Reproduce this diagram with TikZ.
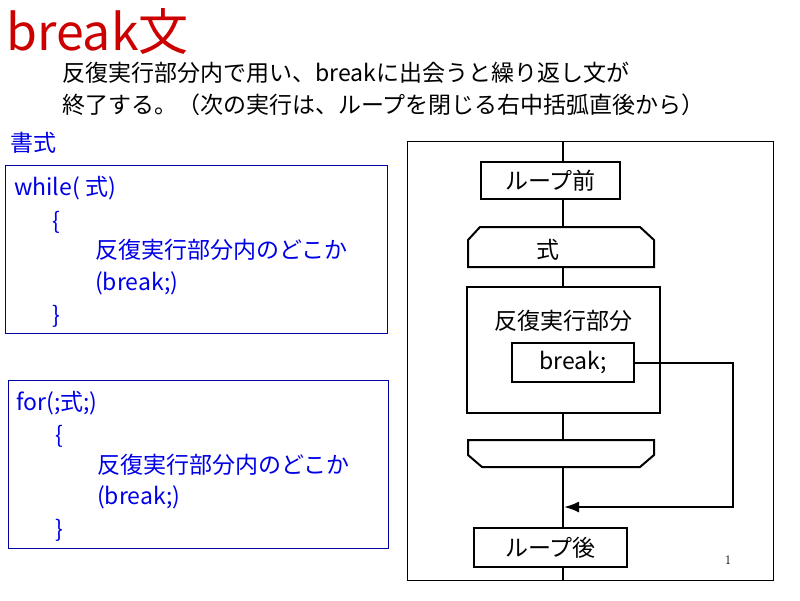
\documentclass[tikz,border=0pt]{standalone}
\usepackage{fontspec}
\setmainfont{Noto Sans CJK JP}
\newfontfamily\numfont{Latin Modern Roman}
\usetikzlibrary{positioning,arrows.meta}
\definecolor{titlered}{RGB}{204,0,0}
\definecolor{codeblue}{RGB}{0,0,230}
\begin{document}
\begin{tikzpicture}[x=1pt,y=-1pt,
  txt/.style = {anchor=west, inner sep=0pt, font=\fontsize{23}{26}\selectfont},
  code/.style = {txt, text=codeblue},
  fbox/.style = {draw, line width=2pt, fill=white, inner sep=0pt, font=\fontsize{23}{26}\selectfont}]
\useasboundingbox (0,0) rectangle (800,600);
% title and explanation
\node[anchor=west, inner sep=0pt, text=titlered, font=\fontsize{50}{54}\selectfont] (title) at (6,32) {break文};
\node[txt] (line1) at (62,73) {反復実行部分内で用い、breakに出会うと繰り返し文が};
\node[txt] (line2) at (62,105) {終了する。（次の実行は、ループを閉じる右中括弧直後から）};
\node[code] (fmt) at (10,143) {書式};
% while box
\draw[draw=codeblue!70!black] (5,165) rectangle (387,333);
\node[code] (w1) at (14,188) {while( 式)};
\node[code] (w2) at (52,222) {\{};
\node[code] (w3) at (95,250) {反復実行部分内のどこか};
\node[code] (w4) at (95,283) {(break;)};
\node[code] (w5) at (52,316) {\}};
% for box
\draw[draw=codeblue!70!black] (8,380) rectangle (388,548);
\node[code] (f1) at (16,403) {for(;式;)};
\node[code] (f2) at (55,436) {\{};
\node[code] (f3) at (97,465) {反復実行部分内のどこか};
\node[code] (f4) at (97,497) {(break;)};
\node[code] (f5) at (55,530) {\}};
% flowchart
\draw (407,141) rectangle (773,580);
\draw[line width=2pt] (563,141) -- (563,580);
\node[fbox, minimum width=139pt, minimum height=37pt] (before) at (550.5,180.5) {ループ前};
\draw[line width=2pt, fill=white] (480,227) -- (640,227) -- (654,240) -- (654,267) -- (468,267) -- (468,240) -- cycle;
\node[inner sep=0pt, font=\fontsize{23}{26}\selectfont] (cond) at (548,250) {式};
\node[fbox, minimum width=193pt, minimum height=126pt] (body) at (563.5,350) {};
\node[inner sep=0pt, font=\fontsize{23}{26}\selectfont] (bodytxt) at (563,321) {反復実行部分};
\node[fbox, minimum width=122pt, minimum height=39pt] (brk) at (573,362.5) {break;};
\draw[line width=2pt, fill=white] (468,440) -- (654,440) -- (654,455) -- (640,467) -- (482,467) -- (468,455) -- cycle;
\coordinate (exit) at (564,507);
\draw[line width=2pt, -{Latex[length=15pt,width=11pt]}] (brk.east) -| (733,507) -- (exit);
\node[fbox, minimum width=153pt, minimum height=39pt] (after) at (550.5,547.5) {ループ後};
\node[inner sep=0pt, font=\numfont\fontsize{13}{15}\selectfont] (pg) at (728,560) {1};
\end{tikzpicture}
\end{document}
